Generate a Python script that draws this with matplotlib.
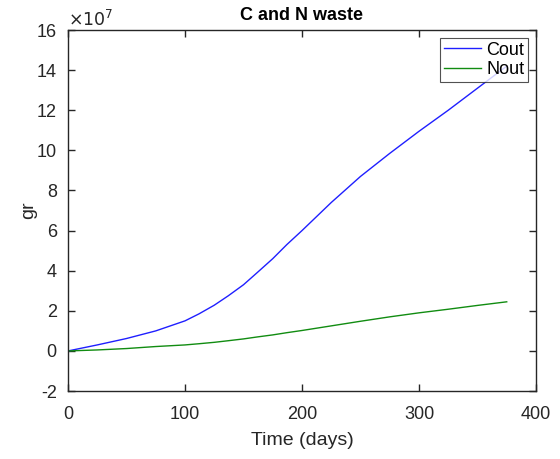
import numpy as np
import matplotlib.pyplot as plt

plt.rcParams['font.family'] = ['Liberation Sans', 'DejaVu Sans']
plt.rcParams['axes.unicode_minus'] = False

# data (values in units of 1e7 gr)
days = [0, 25, 50, 75, 100, 112, 125, 137, 150, 162, 175, 187, 200,
        225, 250, 275, 300, 325, 350, 375]
cout = [0, 0.3, 0.62, 1.0, 1.5, 1.85, 2.28, 2.75, 3.3, 3.92, 4.6, 5.3, 6.0,
        7.4, 8.7, 9.85, 10.95, 12.0, 13.1, 14.2]
nout = [0, 0.05, 0.12, 0.22, 0.3, 0.36, 0.43, 0.51, 0.6, 0.7, 0.8, 0.91, 1.02,
        1.25, 1.48, 1.7, 1.9, 2.08, 2.27, 2.45]

xticks = [0, 100, 200, 300, 400]
yticks = np.arange(-2, 17, 2)

fig = plt.figure(figsize=(5.6, 4.59), dpi=100)
ax = fig.add_axes([0.1214, 0.148, 0.8357, 0.7866])

ax.plot(days, cout, color='#1f1fff', lw=1, label='Cout')
ax.plot(days, nout, color='#118c11', lw=1, label='Nout')

ax.set_xlim(0, 400)
ax.set_ylim(-2, 16)
ax.set_xticks(xticks)
ax.set_yticks(yticks)

grey = '#262626'
ax.tick_params(direction='in', top=True, right=True, length=5, width=1,
               labelsize=13, colors=grey)
ax.tick_params(axis='x', pad=11)
ax.tick_params(axis='y', pad=8)
for s in ax.spines.values():
    s.set_color(grey)
    s.set_linewidth(1)

ax.set_xlabel('Time (days)', fontsize=14, color=grey, labelpad=6)
ax.set_ylabel('gr', fontsize=14, color=grey, labelpad=0)
ax.set_title('C and N waste', fontsize=13, fontweight='bold', pad=7)
ax.text(0.0, 1.003, r'$\times10^{7}$', transform=ax.transAxes,
        fontsize=12.5, color=grey, ha='left', va='bottom')

leg = ax.legend(loc='upper right', fontsize=13, frameon=True, fancybox=False,
                handlelength=2.05, handletextpad=0.3, borderpad=0.2,
                labelspacing=0.15, borderaxespad=0.45)
leg.get_frame().set_edgecolor(grey)
leg.get_frame().set_linewidth(0.8)

plt.savefig('out.png', dpi=100)
